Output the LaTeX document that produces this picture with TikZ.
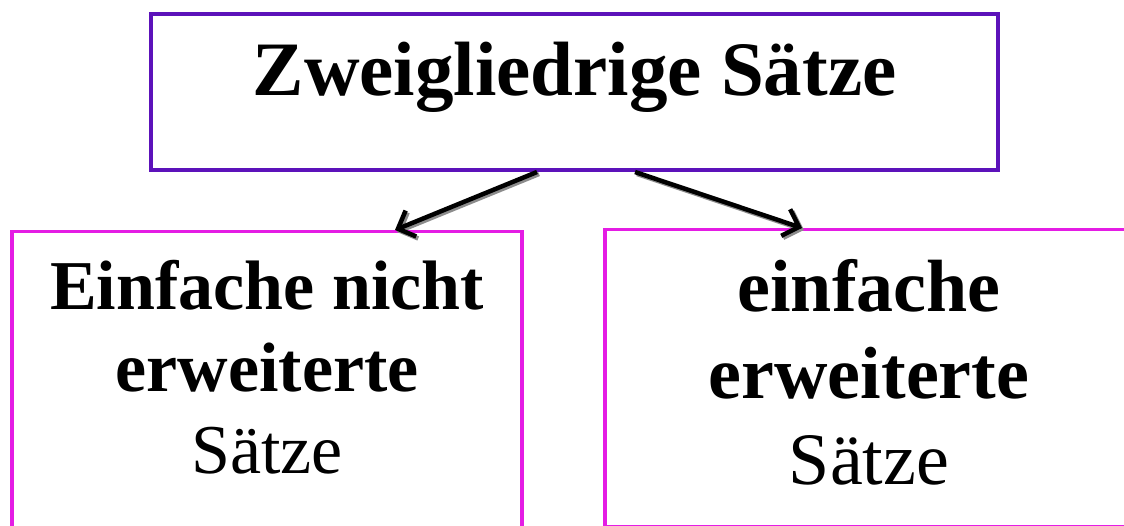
\documentclass[tikz,border=0pt]{standalone}
\usepackage{fontspec}
\setmainfont{Liberation Serif}
\usetikzlibrary{arrows.meta,calc}
\definecolor{boxpurple}{RGB}{92,18,186}
\definecolor{boxmagenta}{RGB}{228,28,228}
\definecolor{shadowgray}{RGB}{140,140,140}
\tikzset{
  titlebox/.style={draw=boxpurple, line width=4pt, rectangle, inner sep=0pt, anchor=north},
  subbox/.style={draw=boxmagenta, line width=3.5pt, rectangle, inner sep=0pt, anchor=north},
  conn/.style={line width=4.5pt, -{Straight Barb[length=14pt,width=28pt]}},
  connshadow/.style={conn, draw=shadowgray, transform canvas={shift={(2,2)}}}
}
\begin{document}
\begin{tikzpicture}[x=1pt,y=-1pt]
\useasboundingbox (0,0) rectangle (1124,526);
\clip (0,0) rectangle (1124,526);
\fill[white] (0,0) rectangle (1124,526);

\node[titlebox, minimum width=847pt, text height=82pt, text depth=74pt]
  (top) at (574.5,12) {\fontsize{77}{90}\selectfont\bfseries Zweigliedrige Sätze};

\node[subbox, minimum width=510pt, text height=78pt, text depth=330pt]
  (left) at (267,230) {\fontsize{70}{82}\selectfont
  \begin{tabular}[t]{@{}c@{}}\bfseries Einfache nicht\\ \bfseries erweiterte\\ Sätze\end{tabular}};

\node[subbox, minimum width=528pt, text height=82pt, text depth=215pt]
  (right) at (869,228) {\fontsize{74}{86.5}\selectfont
  \begin{tabular}[t]{@{}c@{}}\bfseries einfache\\ \bfseries erweiterte\\ Sätze\end{tabular}};

\draw[connshadow] ([xshift=-37.5pt]top.south) -- ([xshift=128pt]left.north);
\draw[connshadow] ([xshift=60.5pt]top.south) -- ([xshift=-67pt]right.north);
\draw[conn] ([xshift=-37.5pt]top.south) -- ([xshift=128pt]left.north);
\draw[conn] ([xshift=60.5pt]top.south) -- ([xshift=-67pt]right.north);
\end{tikzpicture}
\end{document}
